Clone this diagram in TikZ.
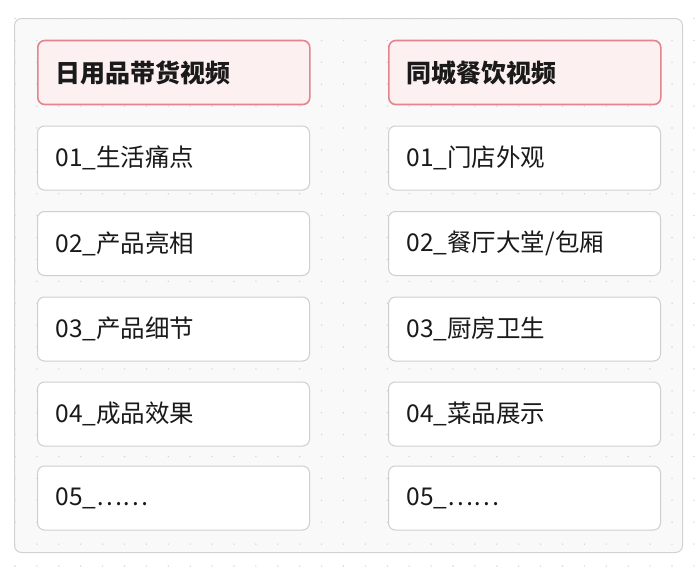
\documentclass[tikz,border=0pt]{standalone}
\usepackage{fontspec}
\setmainfont{Noto Sans CJK SC}
\definecolor{hdrfill}{HTML}{FCF0F1}
\definecolor{hdrline}{HTML}{E3848F}
\definecolor{itemline}{HTML}{CFCFCF}
\definecolor{panelfill}{HTML}{F9F9F9}
\definecolor{panelline}{HTML}{D2D2D2}
\definecolor{dotcol}{HTML}{D6D6D6}
\definecolor{txt}{HTML}{1A1A1A}
\tikzset{
  cell/.style={rectangle, rounded corners=7pt, minimum height=64pt,
    text width=236pt, inner xsep=18pt, align=left, anchor=west,
    font=\fontsize{24.5}{29}\selectfont, text=txt},
  itembox/.style={cell, draw=itemline, line width=1pt, fill=white},
  hdrbox/.style={cell, draw=hdrline, line width=1.6pt, fill=hdrfill,
    font=\fontsize{25}{29}\selectfont\bfseries},
}
\begin{document}
\begin{tikzpicture}[x=1pt,y=-1pt]
\useasboundingbox (0,0) rectangle (696,573);
\fill[white] (0,0) rectangle (696,573);
% panel
\node[draw=panelline, fill=panelfill, rounded corners=7pt, line width=1pt,
  minimum width=668pt, minimum height=534pt, inner sep=0pt, anchor=north west]
  (panel) at (14,18) {};
% dot grid
\foreach \i in {0,...,31}{
  \foreach \j in {0,...,25}{
    \fill[dotcol] (15+21.9*\i, 18.5+21.9*\j) circle (0.8pt);
  }
}
% left column
\node[hdrbox] (lh) at (37,72.5) {日用品带货视频};
\node[itembox] (l1) at (37,158) {01\_生活痛点};
\node[itembox] (l2) at (37,243.5) {02\_产品亮相};
\node[itembox] (l3) at (37,329) {03\_产品细节};
\node[itembox] (l4) at (37,414) {04\_成品效果};
\node[itembox] (l5) at (37,498) {05\_⋯⋯};
% right column
\node[hdrbox] (rh) at (388,72.5) {同城餐饮视频};
\node[itembox] (r1) at (388,158) {01\_门店外观};
\node[itembox] (r2) at (388,243.5) {02\_餐厅大堂/包厢};
\node[itembox] (r3) at (388,329) {03\_厨房卫生};
\node[itembox] (r4) at (388,414) {04\_菜品展示};
\node[itembox] (r5) at (388,498) {05\_⋯⋯};
\end{tikzpicture}
\end{document}
